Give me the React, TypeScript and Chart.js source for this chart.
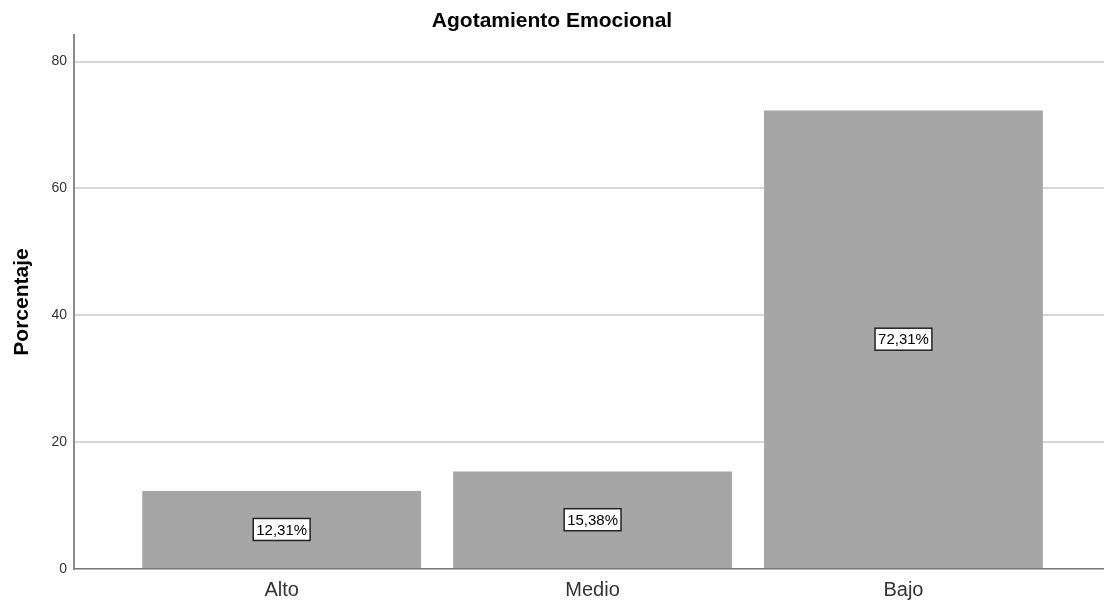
import React, { useEffect, useRef } from "react";
import { Chart, registerables } from "chart.js";

Chart.register(...registerables);

const categories = ["Alto", "Medio", "Bajo"];
const percentages = [12.31, 15.38, 72.31];
const valueLabels = ["12,31%", "15,38%", "72,31%"];
const yTickValues = [0, 20, 40, 60, 80];
const chartTitle = "Agotamiento Emocional";
const yAxisTitle = "Porcentaje";

const FONT = "'Liberation Sans', Arial, sans-serif";

const barLabelPlugin = {
  id: "barLabels",
  afterDatasetsDraw(chart: any) {
    const ctx = chart.ctx;
    const meta = chart.getDatasetMeta(0);
    ctx.save();
    ctx.font = `15px ${FONT}`;
    ctx.textAlign = "center";
    ctx.textBaseline = "middle";
    meta.data.forEach((bar: any, i: number) => {
      const text = valueLabels[i];
      const cx = bar.x;
      const cy = (bar.y + bar.base) / 2;
      const w = ctx.measureText(text).width + 6;
      const h = 22;
      ctx.fillStyle = "#ffffff";
      ctx.fillRect(cx - w / 2, cy - h / 2, w, h);
      ctx.lineWidth = 1.5;
      ctx.strokeStyle = "#222222";
      ctx.strokeRect(cx - w / 2, cy - h / 2, w, h);
      ctx.fillStyle = "#000000";
      ctx.fillText(text, cx, cy + 1);
    });
    ctx.restore();
  },
};

export default function App() {
  const canvasRef = useRef<HTMLCanvasElement | null>(null);

  useEffect(() => {
    if (!canvasRef.current) return;
    const chart = new Chart(canvasRef.current, {
      type: "bar",
      data: {
        datasets: [
          {
            data: percentages.map((v, i) => ({ x: i + 1, y: v })),
            backgroundColor: "#a6a6a6",
            borderWidth: 0,
            barPercentage: 0.897,
            categoryPercentage: 1,
          },
        ],
      },
      options: {
        animation: false,
        responsive: false,
        devicePixelRatio: 1,
        layout: { padding: 0 },
        plugins: {
          legend: { display: false },
          tooltip: { enabled: false },
          title: {
            display: true,
            text: chartTitle,
            color: "#000000",
            font: { family: FONT, size: 21, weight: "bold" },
            padding: { top: 8.4, bottom: 1.4 },
          },
        },
        scales: {
          x: {
            type: "linear",
            offset: false,
            min: 0.332,
            max: 3.645,
            afterBuildTicks: (scale: any) => {
              scale.ticks = categories.map((_, i) => ({ value: i + 1 }));
            },
            afterFit: (scale: any) => {
              scale.height = 33;
            },
            grid: { display: false, drawTicks: false, offset: false },
            border: { display: true, color: "#777777", width: 1.5 },
            ticks: {
              color: "#333333",
              font: { family: FONT, size: 20 },
              padding: 9,
              maxRotation: 0,
              autoSkip: false,
              callback: (value: any) => categories[Number(value) - 1] ?? "",
            },
          },
          y: {
            type: "linear",
            min: 0,
            max: 84.2,
            afterBuildTicks: (scale: any) => {
              scale.ticks = yTickValues.map((v) => ({ value: v }));
            },
            afterFit: (scale: any) => {
              scale.width = 74;
            },
            grid: {
              drawTicks: false,
              lineWidth: 2,
              color: (c: any) => (c.tick && c.tick.value === 0 ? "rgba(0,0,0,0)" : "#d6d6d6"),
            },
            border: { display: true, color: "#8a8a8a", width: 2 },
            ticks: {
              color: "#333333",
              font: { family: FONT, size: 14 },
              padding: 7,
            },
            title: {
              display: true,
              text: yAxisTitle,
              color: "#000000",
              font: { family: FONT, size: 21, weight: "bold" },
              padding: { top: 10, bottom: 0 },
            },
          },
        },
      },
      plugins: [barLabelPlugin],
    } as any);
    return () => chart.destroy();
  }, []);

  return (
    <div style={{ position: "absolute", left: 0, top: 0, width: 1104, height: 602, background: "#ffffff" }}>
      <canvas ref={canvasRef} width={1104} height={602} style={{ display: "block" }} />
    </div>
  );
}
